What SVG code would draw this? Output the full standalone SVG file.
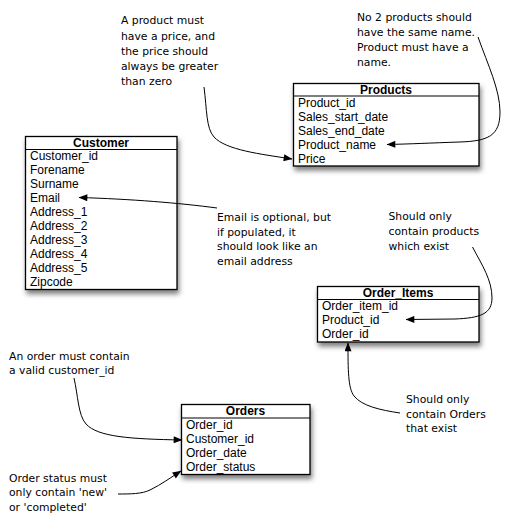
<svg xmlns="http://www.w3.org/2000/svg" width="514" height="524" viewBox="0 0 514 524">
<style>
.box{fill:#fff;stroke:#000;stroke-width:1.3}
.sep{stroke:#000;stroke-width:1.2}
.t{font-family:"Liberation Sans",Arial,sans-serif;font-size:12px;fill:#000}
.h{font-family:"Liberation Sans",Arial,sans-serif;font-size:12px;font-weight:bold;fill:#000;text-anchor:middle}
.n{font-family:"DejaVu Sans","Noto Sans",sans-serif;font-size:10.8px;fill:#000}
.c{fill:none;stroke:#000;stroke-width:1}
</style>
<defs>
<filter id="sh" x="-10%" y="-10%" width="130%" height="140%">
<feDropShadow dx="1.5" dy="4" stdDeviation="2.8" flood-color="#000" flood-opacity="0.5"/>
</filter>
<marker id="ar" viewBox="0 0 10 8" markerWidth="10" markerHeight="7" refX="9.5" refY="4" orient="auto" markerUnits="userSpaceOnUse">
<path d="M0,0 L10,4 L0,8 z" fill="#000"/>
</marker>
</defs>
<rect width="514" height="524" fill="#fff"/>

<g id="products">
<rect class="box" x="293.5" y="83.5" width="185.5" height="82.5" filter="url(#sh)"/>
<line class="sep" x1="293.5" y1="96" x2="479" y2="96"/>
<text class="h" x="386" y="93.5">Products</text>
<text class="t" x="298" y="106.5">Product_id</text>
<text class="t" x="298" y="120.5">Sales_start_date</text>
<text class="t" x="298" y="134.5">Sales_end_date</text>
<text class="t" x="298" y="148.5">Product_name</text>
<text class="t" x="298" y="162.5">Price</text>
</g>

<g id="customer">
<rect class="box" x="25.5" y="136.5" width="151.5" height="153" filter="url(#sh)"/>
<line class="sep" x1="25.5" y1="149.5" x2="177" y2="149.5"/>
<text class="h" x="101" y="146.5">Customer</text>
<text class="t" x="30" y="159.5">Customer_id</text>
<text class="t" x="30" y="173.5">Forename</text>
<text class="t" x="30" y="187.5">Surname</text>
<text class="t" x="30" y="201.5">Email</text>
<text class="t" x="30" y="215.5">Address_1</text>
<text class="t" x="30" y="229.5">Address_2</text>
<text class="t" x="30" y="243.5">Address_3</text>
<text class="t" x="30" y="257.5">Address_4</text>
<text class="t" x="30" y="271.5">Address_5</text>
<text class="t" x="30" y="285.5">Zipcode</text>
</g>

<g id="order_items">
<rect class="box" x="317.5" y="286.5" width="161.5" height="55.5" filter="url(#sh)"/>
<line class="sep" x1="317.5" y1="299.5" x2="479" y2="299.5"/>
<text class="h" x="398" y="296.5">Order_Items</text>
<text class="t" x="322" y="310">Order_item_id</text>
<text class="t" x="322" y="324">Product_id</text>
<text class="t" x="322" y="338">Order_id</text>
</g>

<g id="orders">
<rect class="box" x="181.5" y="404.5" width="128.5" height="70" filter="url(#sh)"/>
<line class="sep" x1="181.5" y1="418" x2="310" y2="418"/>
<text class="h" x="245.5" y="415">Orders</text>
<text class="t" x="186" y="428.5">Order_id</text>
<text class="t" x="186" y="442.5">Customer_id</text>
<text class="t" x="186" y="456.5">Order_date</text>
<text class="t" x="186" y="470.5">Order_status</text>
</g>

<g id="notes">
<text class="n" x="121" y="24.3">A product must</text>
<text class="n" x="121" y="39.5">have a price, and</text>
<text class="n" x="121" y="54.8">the price should</text>
<text class="n" x="121" y="70">always be greater</text>
<text class="n" x="121" y="85.3">than zero</text>

<text class="n" x="357" y="20.5">No 2 products should</text>
<text class="n" x="357" y="35.8">have the same name.</text>
<text class="n" x="357" y="51">Product must have a</text>
<text class="n" x="357" y="66.3">name.</text>

<text class="n" x="217" y="221">Email is optional, but</text>
<text class="n" x="217" y="235.6">if populated, it</text>
<text class="n" x="217" y="250.2">should look like an</text>
<text class="n" x="217" y="264.8">email address</text>

<text class="n" x="388.5" y="219.8">Should only</text>
<text class="n" x="388.5" y="234.8">contain products</text>
<text class="n" x="388.5" y="249.8">which exist</text>

<text class="n" x="406" y="403">Should only</text>
<text class="n" x="406" y="417.6">contain Orders</text>
<text class="n" x="406" y="432.3">that exist</text>

<text class="n" x="9" y="359.5">An order must contain</text>
<text class="n" x="9" y="374">a valid customer_id</text>

<text class="n" x="9" y="481.5">Order status must</text>
<text class="n" x="9" y="496">only contain 'new'</text>
<text class="n" x="9" y="511">or 'completed'</text>
</g>

<g id="connectors">
<path class="c" marker-end="url(#ar)" d="M204,87 C207,110 206,128 214,137 C226,150 260,154 292,159"/>
<path class="c" marker-end="url(#ar)" d="M478,37 C488,65 500,90 500,112 C500,136 488,141 460,142 C430,143 410,144 387,144.5"/>
<path class="c" marker-end="url(#ar)" d="M217,208 C180,203 130,199 79,197.5"/>
<path class="c" marker-end="url(#ar)" d="M472.5,247 C482,265 492,280 492,298 C492,314 480,318 455,319 L406,319.5"/>
<path class="c" marker-end="url(#ar)" d="M400,413 C380,410 362,406 354,396 C348,388 348,370 348,343"/>
<path class="c" marker-end="url(#ar)" d="M74,378 C78,395 78,415 86,424 C98,437 130,439 182,440"/>
<path class="c" marker-end="url(#ar)" d="M118,494 C130,494 142,494 150,490 C162,484 170,478 181,471"/>
</g>
</svg>
